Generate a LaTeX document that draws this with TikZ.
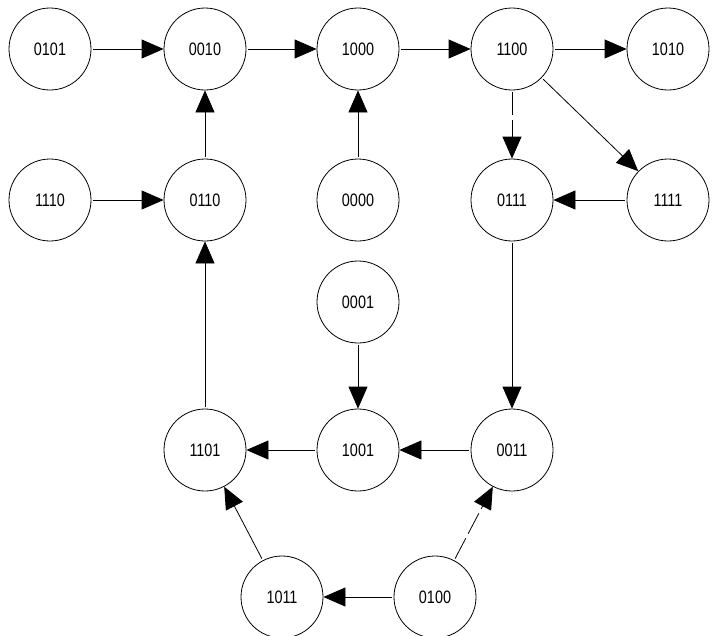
\documentclass[tikz,border=0pt]{standalone}
\usepackage{fontspec}
\setmainfont{Liberation Sans}
\newfontfamily\narrowsans[FakeStretch=0.8]{Liberation Sans}
\usetikzlibrary{arrows.meta}
\begin{document}
\begin{tikzpicture}[x=1pt,y=-1pt,
  state/.style={circle,draw,line width=0.8pt,minimum size=82pt,inner sep=0pt,font=\narrowsans\fontsize{18}{20}\selectfont},
  edge/.style={line width=0.8pt,shorten <=2pt,-{Triangle[length=22pt,width=19pt]}},
  dashedge/.style={edge,dash pattern=on 23pt off 5pt}]
\useasboundingbox (0,0) rectangle (712,635);
\node[state] (a0101) at (50,49) {0101};
\node[state] (a0010) at (205,49) {0010};
\node[state] (a1000) at (358,49) {1000};
\node[state] (a1100) at (512,49) {1100};
\node[state] (a1010) at (668,49) {1010};
\node[state] (a1110) at (50,200) {1110};
\node[state] (a0110) at (205,200) {0110};
\node[state] (a0000) at (358,200) {0000};
\node[state] (a0111) at (512,200) {0111};
\node[state] (a1111) at (668,200) {1111};
\node[state] (a0001) at (358,302) {0001};
\node[state] (a1101) at (205,450) {1101};
\node[state] (a1001) at (358,450) {1001};
\node[state] (a0011) at (512,450) {0011};
\node[state] (a1011) at (282,597) {1011};
\node[state] (a0100) at (435,597) {0100};
\draw[edge] (a0101) -- (a0010);
\draw[edge] (a0010) -- (a1000);
\draw[edge] (a1000) -- (a1100);
\draw[edge] (a1100) -- (a1010);
\draw[edge] (a1110) -- (a0110);
\draw[edge] (a0110) -- (a0010);
\draw[edge] (a0000) -- (a1000);
\draw[dashedge] (a1100) -- (a0111);
\draw[edge] (a1100) -- (a1111);
\draw[edge] (a1111) -- (a0111);
\draw[edge] (a0111) -- (a0011);
\draw[edge] (a0001) -- (a1001);
\draw[edge] (a1101) -- (a0110);
\draw[edge] (a1001) -- (a1101);
\draw[edge] (a0011) -- (a1001);
\draw[edge] (a1011) -- (a1101);
\draw[edge] (a0100) -- (a1011);
\draw[dashedge] (a0100) -- (a0011);
\end{tikzpicture}
\end{document}
